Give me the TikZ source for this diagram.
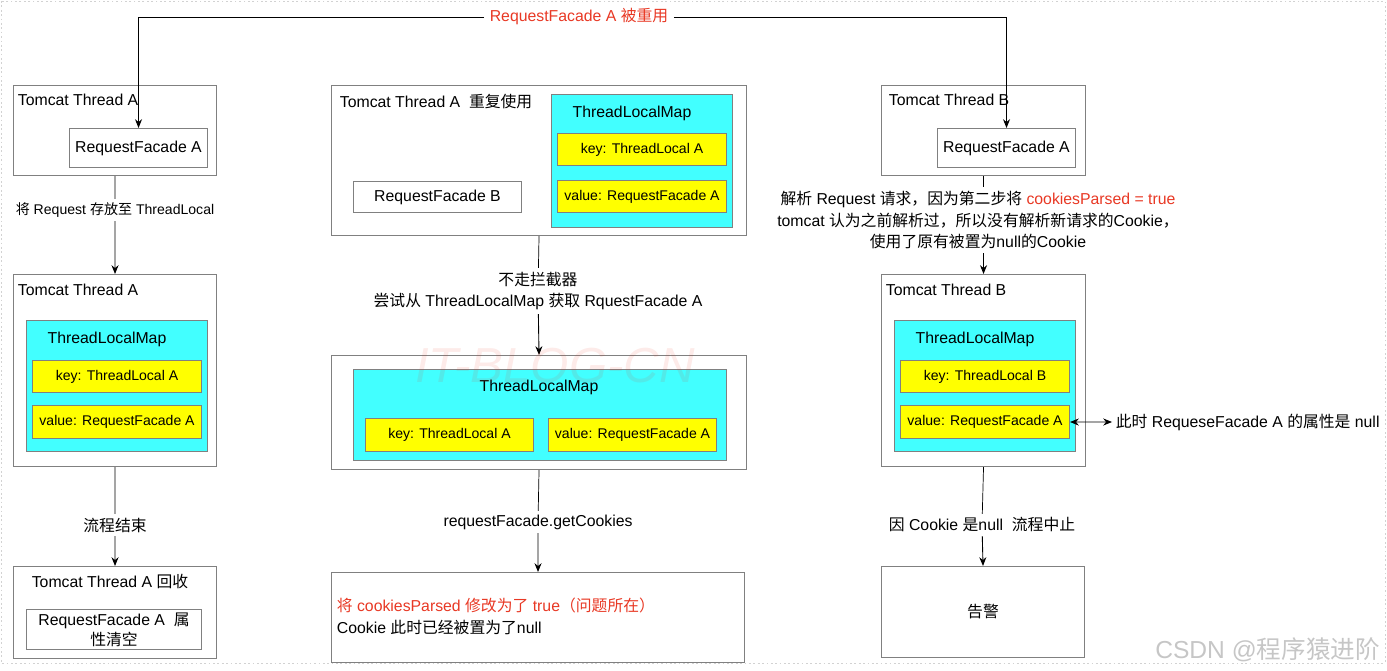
\documentclass[tikz,border=0pt]{standalone}
\usepackage{fontspec}
\setmainfont{Liberation Sans}
\newfontfamily\cjk{Noto Sans CJK SC}
\newcommand{\zh}[1]{{\cjk #1}}
\usepackage{xcolor}
\usetikzlibrary{arrows.meta,positioning}

\definecolor{linegray}{RGB}{128,128,128}
\definecolor{tlcyan}{RGB}{66,255,255}
\definecolor{tlyellow}{RGB}{255,255,0}
\definecolor{warnred}{RGB}{232,56,36}

\begin{document}
\begin{tikzpicture}[
  x=0.02cm, y=-0.02cm,
  every node/.style={font=\fontsize{9}{12.5}\selectfont},
  sz/.style 2 args={minimum width=#1*0.02cm, minimum height=#2*0.02cm},
  frame/.style={rectangle, draw=linegray, line width=0.6pt, inner sep=0pt, anchor=north west},
  tlm/.style={frame, fill=tlcyan},
  entry/.style={frame, fill=tlyellow, font=\fontsize{8}{10}\selectfont},
  title/.style={inner sep=2pt},
  flow/.style={inner sep=2pt, align=center},
  arrow/.style={-{Stealth[length=5pt,width=4pt]}, line width=0.5pt}
]
\useasboundingbox (0,0) rectangle (1387,671);
\draw[gray!35, dash pattern=on 1pt off 1.5pt] (1,1) rectangle (1385,663);

% Left column: Tomcat Thread A
\node[frame, sz={203}{90}] (ta1) at (13,85) {};
\node[title, anchor=west] (ta1t) at (14,100) {Tomcat Thread A};
\node[frame, sz={138}{39}] (rfa1) at (69,128) {RequestFacade A};

\node[frame, sz={203}{192}] (ta2) at (13,274) {};
\node[title, anchor=west] (ta2t) at (14,290) {Tomcat Thread A};
\node[tlm, sz={181}{131}] (tlm2) at (26,320) {};
\node[title] (tlm2t) at (107,339) {ThreadLocalMap};
\node[entry, sz={169}{32}] (key2) at (32,360) {key: ThreadLocal A};
\node[entry, sz={169}{33}] (val2) at (32,405) {value: RequestFacade A};

\node[frame, sz={203}{92}] (ta3) at (13,566) {};
\node[title] (ta3t) at (110,582) {Tomcat Thread A \zh{回收}};
\node[frame, sz={175}{40}, align=center] (clr) at (26,609) {RequestFacade A\ \ \zh{属}\\[-1pt]\zh{性清空}};

% Middle column: Tomcat Thread A reused
\node[frame, sz={415}{150}] (m1) at (331,85) {};
\node[title, anchor=west] (m1t) at (336,102) {Tomcat Thread A\ \ \zh{重复使用}};
\node[frame, sz={168}{31}] (rfb) at (353,181) {RequestFacade B};
\node[tlm, sz={181}{133}] (tlm1) at (551,94) {};
\node[title] (tlm1t) at (632,113) {ThreadLocalMap};
\node[entry, sz={169}{32}] (key1) at (557,133) {key: ThreadLocal A};
\node[entry, sz={169}{32}] (val1) at (557,180) {value: RequestFacade A};

\node[frame, sz={415}{114}] (m2) at (331,355) {};
\node[tlm, sz={373}{91}] (tlmm) at (353,369) {};
\node[title] (tlmmt) at (539,387) {ThreadLocalMap};
\node[entry, sz={168}{33}] (keym) at (365,418) {key: ThreadLocal A};
\node[entry, sz={168}{33}] (valm) at (548,418) {value: RequestFacade A};

\node[frame, sz={413}{90}] (m3) at (331,572) {};
\node[title, anchor=west, align=left] (m3t) at (333,616) {\textcolor{warnred}{\zh{将} cookiesParsed \zh{修改为了} true\zh{（问题所在）}}\\Cookie \zh{此时已经被置为了}null};

% Right column: Tomcat Thread B
\node[frame, sz={204}{90}] (b1) at (881,85) {};
\node[title, anchor=west] (b1t) at (885,100) {Tomcat Thread B};
\node[frame, sz={138}{39}] (rfb1) at (937,128) {RequestFacade A};

\node[frame, sz={204}{192}] (b2) at (881,274) {};
\node[title, anchor=west] (b2t) at (882,290) {Tomcat Thread B};
\node[tlm, sz={181}{131}] (tlmb) at (894,320) {};
\node[title] (tlmbt) at (975,339) {ThreadLocalMap};
\node[entry, sz={169}{32}] (keyb) at (900,360) {key: ThreadLocal B};
\node[entry, sz={169}{33}] (valb) at (900,405) {value: RequestFacade A};
\node[title, anchor=west] (nullnote) at (1112,422) {\zh{此时} RequeseFacade A \zh{的属性是} null};

\node[frame, sz={203}{91}] (b3) at (881,566) {\zh{告警}};

% Labels on the flow
\node[flow, text=warnred, inner sep=3pt] (reuse) at (579,17) {RequestFacade A \zh{被重用}};
\node[flow, font=\fontsize{8}{10}\selectfont] (lstore) at (115,210) {\zh{将} Request \zh{存放至} ThreadLocal};
\node[flow] (lend) at (115,525) {\zh{流程结束}};
\node[flow] (lskip) at (538,291) {\zh{不走拦截器}\\\zh{尝试从} ThreadLocalMap \zh{获取} RquestFacade A};
\node[flow] (lget) at (538,522) {requestFacade.getCookies};
\node[flow] (lparse) at (978,220) {\zh{解析} Request \zh{请求，因为第二步将} \textcolor{warnred}{cookiesParsed = true}\\tomcat \zh{认为之前解析过，所以没有解析新请求的}Cookie\zh{，}\\\zh{使用了原有被置为}null\zh{的}Cookie};
\node[flow] (lstop) at (982,525) {\zh{因} Cookie \zh{是}null\ \ \zh{流程中止}};

% Arrows
\draw[arrow] (reuse.west) -| (rfa1.north);
\draw[arrow] (reuse.east) -| (rfb1.north);
\draw (ta1.south) -- (lstore);
\draw[arrow] (lstore) -- (ta2.north);
\draw (ta2.south) -- (lend);
\draw[arrow] (lend) -- (ta3.north);
\draw (m1.south) -- (lskip);
\draw[arrow] (lskip) -- (m2.north);
\draw (m2.south) -- (lget);
\draw[arrow] (lget) -- (m3.north);
\draw (b1.south) -- (b1.south |- lparse.north);
\draw[arrow] (b1.south |- lparse.south) -- (b2.north);
\draw (b2.south) -- (lstop);
\draw[arrow] (lstop) -- (b3.north);
\draw[arrow, {Stealth[length=5pt,width=4pt]}-{Stealth[length=5pt,width=4pt]}] (valb.east) -- (nullnote.west);

% Watermarks
\node[font=\fontsize{28}{30}\selectfont\itshape, text=warnred, opacity=0.1] (wmit) at (555,366) {IT-BLOG-CN};
\node[font=\fontsize{14}{16}\selectfont, text=gray!45, anchor=east] (wmcsdn) at (1386,650) {CSDN @\zh{程序猿进阶}};

\end{tikzpicture}
\end{document}
